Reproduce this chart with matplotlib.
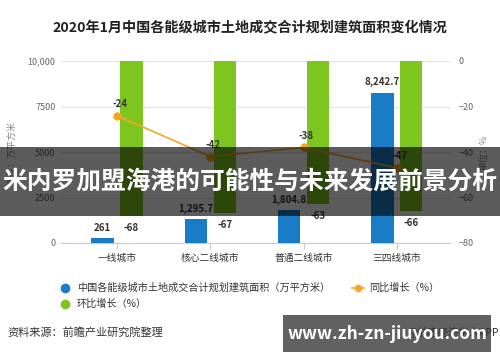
import matplotlib
matplotlib.use("Agg")
import matplotlib.pyplot as plt
from matplotlib.patches import Rectangle
from matplotlib.lines import Line2D
import numpy as np

plt.rcParams['font.family'] = ['Noto Sans CJK SC', 'DejaVu Sans']

categories = ["一线城市", "核心二线城市", "普通二线城市", "三四线城市"]
area = [261, 1295.7, 1804.8, 8242.7]
area_labels = ["261", "1,295.7", "1,804.8", "8,242.7"]
yoy = [-24, -42, -38, -47]
mom = [-68, -67, -63, -66]

blue = "#1a7bc6"
green = "#7ec520"
orange = "#f5a623"

fig = plt.figure(figsize=(5, 3.62), dpi=100)
W, H = 500, 362
ax = fig.add_axes([61 / W, 1 - 243 / H, 389 / W, 182 / H])
ax2 = ax.twinx()

x = np.arange(len(categories))
bw = 0.24
ax.bar(x - 0.155, area, width=bw, color=blue, zorder=3)
ax2.bar(x + 0.155, mom, width=bw, color=green, zorder=3)
ax2.plot(x, yoy, color=orange, lw=1.2, marker="o", ms=5, zorder=4)

ax.set_xlim(-0.6, 3.57)
ax.set_ylim(0, 10000)
ax2.set_ylim(-80, 0)
ax.set_yticks([0, 2500, 5000, 7500, 10000])
ax.set_yticklabels(["0", "2500", "5000", "7500", "10,000"])
ax2.set_yticks([0, -20, -40, -60, -80])
ax.set_xticks(x)
ax.set_xticklabels(categories)
ax.grid(axis="y", color="#e6e6e6", lw=1, zorder=0)

for a in (ax, ax2):
    for s in ["top", "left", "right", "bottom"]:
        a.spines[s].set_visible(False)
ax.spines["bottom"].set_visible(True)
ax.spines["bottom"].set_color("#cccccc")
ax.tick_params(axis="y", length=0, labelsize=6.5, labelcolor="#666666", pad=4)
ax2.tick_params(axis="y", length=0, labelsize=6.5, labelcolor="#666666", pad=6)
ax.tick_params(axis="x", length=4, color="#cccccc", labelsize=7, labelcolor="#333333", pad=3)

ax.set_ylabel("单位：万平方米", fontsize=6.5, color="#888888", labelpad=8)
ax2.set_ylabel("单位：%", fontsize=6.5, color="#888888", labelpad=4)

for xi, v, t in zip(x, area, area_labels):
    ax.annotate(t, (xi - 0.155, v), xytext=(0, 4), textcoords="offset points",
                ha="center", va="bottom", fontsize=7, fontweight="bold", color="#333333")
for xi, v in zip(x, mom):
    ax2.annotate(str(v), (xi + 0.155, v), xytext=(0, -5), textcoords="offset points",
                 ha="center", va="top", fontsize=7, fontweight="bold", color="#333333")
for xi, v in zip(x, yoy):
    ax2.annotate(str(v), (xi, v), xytext=(2, 5), textcoords="offset points",
                 ha="center", va="bottom", fontsize=7, fontweight="bold", color="#333333")

fig.text(0.5, 1 - 27 / H, "2020年1月中国各能级城市土地成交合计规划建筑面积变化情况",
         ha="center", va="center", fontsize=10.2, fontweight="bold", color="#222222")

# legend
fig.add_artist(Line2D([65 / W], [1 - 288 / H], marker="o", ms=6, color=blue, lw=0))
fig.text(77 / W, 1 - 288 / H, "中国各能级城市土地成交合计规划建筑面积（万平方米）",
         va="center", fontsize=7.3, color="#333333")
fig.add_artist(Line2D([352 / W, 364 / W], [1 - 288 / H] * 2, color=orange, lw=1.2))
fig.add_artist(Line2D([358 / W], [1 - 288 / H], marker="o", ms=4.5, color=orange, lw=0))
fig.text(369 / W, 1 - 288 / H, "同比增长（%）", va="center", fontsize=7.3, color="#333333")
fig.add_artist(Line2D([65 / W], [1 - 304 / H], marker="o", ms=6, color=green, lw=0))
fig.text(77 / W, 1 - 304 / H, "环比增长（%）", va="center", fontsize=7.3, color="#333333")

fig.text(7 / W, 1 - 332 / H, "资料来源：前瞻产业研究院整理", va="center", fontsize=8, color="#333333")
fig.text(499 / W, 1 - 332 / H, "@前瞻经济学人APP", ha="right", va="center", fontsize=7.5, color="#333333")

# overlays
fig.add_artist(Rectangle((0, 1 - 216 / H), 1, 69 / H, transform=fig.transFigure,
                         color="black", alpha=0.64, lw=0))
fig.text(0.5, 1 - 182 / H, "米内罗加盟海港的可能性与未来发展前景分析", ha="center", va="center",
         fontsize=17.8, fontweight="bold", color="white")
fig.add_artist(Rectangle((283 / W, 1 - 352 / H), 208 / W, 37 / H, transform=fig.transFigure,
                         color="black", alpha=0.62, lw=0))
fig.text(387 / W, 1 - 334 / H, "www.zh-zn-jiuyou.com", ha="center", va="center",
         fontsize=12.5, fontweight="bold", color="white")

fig.savefig("out.png", dpi=100)
